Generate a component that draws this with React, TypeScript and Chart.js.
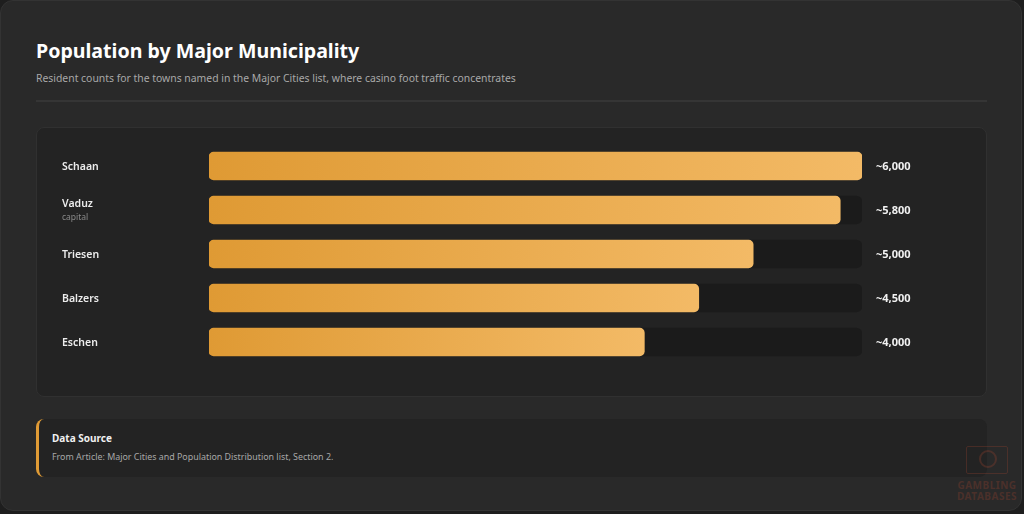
import React, { useEffect, useRef } from "react";
import { Chart, registerables } from "chart.js";

Chart.register(...registerables);

const CITIES = ["Schaan", "Vaduz", "Triesen", "Balzers", "Eschen"];
const SUBLABELS = ["", "capital", "", "", ""];
const POPULATION = [6000, 5800, 5000, 4500, 4000];
const VALUE_LABELS = ["~6,000", "~5,800", "~5,000", "~4,500", "~4,000"];
const AXIS_MAX = 6000;

const FONT = '"Segoe UI", "Noto Sans", "Open Sans", sans-serif';

const labelPlugin = {
  id: "rowLabels",
  afterDatasetsDraw(chart: any) {
    const { ctx, chartArea, scales } = chart;
    const y = scales.y;
    ctx.save();
    CITIES.forEach((name, i) => {
      const cy = y.getPixelForValue(i) + 1;
      ctx.textBaseline = "middle";
      ctx.textAlign = "left";
      const sub = SUBLABELS[i];
      ctx.font = `600 10.5px ${FONT}`;
      ctx.fillStyle = "#ececec";
      ctx.fillText(name, 25, sub ? cy - 7 : cy);
      if (sub) {
        ctx.font = `400 8.5px ${FONT}`;
        ctx.fillStyle = "#8a8a8a";
        ctx.fillText(sub, 25, cy + 7);
      }
      ctx.font = `700 11px ${FONT}`;
      ctx.fillStyle = "#f2f2f2";
      ctx.fillText(VALUE_LABELS[i], chartArea.right + 14, cy);
    });
    ctx.restore();
  },
};

function barGradient(context: any) {
  const chart = context.chart;
  const area = chart.chartArea;
  if (!area) return "#e8a444";
  const xs = chart.scales.x;
  const v = POPULATION[context.dataIndex] ?? AXIS_MAX;
  const x0 = xs.getPixelForValue(0);
  const x1 = xs.getPixelForValue(v);
  const g = chart.ctx.createLinearGradient(x0, 0, x1, 0);
  g.addColorStop(0, "#df9a34");
  g.addColorStop(1, "#f3ba66");
  return g;
}

function BarChart() {
  const ref = useRef<HTMLCanvasElement | null>(null);
  useEffect(() => {
    if (!ref.current) return;
    const chart = new Chart(ref.current, {
      type: "bar",
      data: {
        labels: CITIES,
        datasets: [
          {
            label: "Population",
            data: POPULATION,
            backgroundColor: barGradient as any,
            borderRadius: 5,
            borderSkipped: false,
            barThickness: 28,
            grouped: false,
            order: 1,
          } as any,
          {
            label: "Track",
            data: CITIES.map(() => AXIS_MAX),
            backgroundColor: "#1b1b1b",
            borderRadius: 6,
            borderSkipped: false,
            barThickness: 28,
            grouped: false,
            order: 2,
          } as any,
        ],
      },
      options: {
        indexAxis: "y",
        animation: false,
        responsive: true,
        maintainAspectRatio: false,
        layout: { padding: { left: 172, right: 124, top: 16, bottom: 32 } },
        plugins: { legend: { display: false }, tooltip: { enabled: false } },
        scales: {
          x: { display: false, min: 0, max: AXIS_MAX },
          y: { display: false, offset: true },
        },
      },
      plugins: [labelPlugin],
    });
    return () => chart.destroy();
  }, []);
  return <canvas ref={ref} />;
}

export default function App() {
  useEffect(() => {
    document.body.style.margin = "0";
    document.body.style.background = "#1e1e1e";
  }, []);
  return (
    <div style={{ position: "relative", width: 1024, height: 514, background: "#1e1e1e", fontFamily: FONT, overflow: "hidden" }}>
      <div
        style={{
          position: "absolute",
          left: 0,
          top: 0,
          width: 1020,
          height: 509,
          background: "#292929",
          border: "1px solid #333333",
          borderRadius: 13,
        }}
      />
      <div style={{ position: "absolute", left: 36, top: 37, fontSize: 19.6, fontWeight: 700, color: "#ffffff", lineHeight: "28px" }}>
        Population by Major Municipality
      </div>
      <div style={{ position: "absolute", left: 36, top: 70, fontSize: 10.4, color: "#a8a8a8", lineHeight: "16px" }}>
        Resident counts for the towns named in the Major Cities list, where casino foot traffic concentrates
      </div>
      <div style={{ position: "absolute", left: 36, top: 100, width: 951, height: 2, background: "#353535" }} />
      <div
        style={{
          position: "absolute",
          left: 36,
          top: 127,
          width: 949,
          height: 268,
          background: "#232323",
          border: "1px solid #303030",
          borderRadius: 8,
        }}
      >
        <div style={{ position: "absolute", left: 0, top: 0, width: 949, height: 268 }}>
          <BarChart />
        </div>
      </div>
      <div
        style={{
          position: "absolute",
          left: 36,
          top: 419,
          width: 948,
          height: 58,
          background: "#232323",
          borderLeft: "3px solid #e09b35",
          borderRadius: 8,
        }}
      >
        <div style={{ position: "absolute", left: 13, top: 12, fontSize: 10, fontWeight: 700, color: "#f0f0f0", lineHeight: "15px" }}>
          Data Source
        </div>
        <div style={{ position: "absolute", left: 13, top: 31, fontSize: 8.9, color: "#a8a8a8", lineHeight: "14px" }}>
          From Article: Major Cities and Population Distribution list, Section 2.
        </div>
      </div>
      <div style={{ position: "absolute", left: 953, top: 446, width: 68, height: 64, opacity: 0.28, textAlign: "center" }}>
        <div style={{ margin: "0 auto", width: 40, height: 26, border: "1px solid #a3452f", borderRadius: 2, position: "relative" }}>
          <div style={{ position: "absolute", left: 12, top: 3, width: 18, height: 18, borderRadius: 9, border: "2px solid #a3452f", boxSizing: "border-box" }} />
        </div>
        <div style={{ fontSize: 10, fontWeight: 700, color: "#a3452f", lineHeight: "11px", marginTop: 6, letterSpacing: 0.5 }}>GAMBLING</div>
        <div style={{ fontSize: 10, fontWeight: 700, color: "#a3452f", lineHeight: "11px", letterSpacing: 0.5 }}>DATABASES</div>
      </div>
    </div>
  );
}
